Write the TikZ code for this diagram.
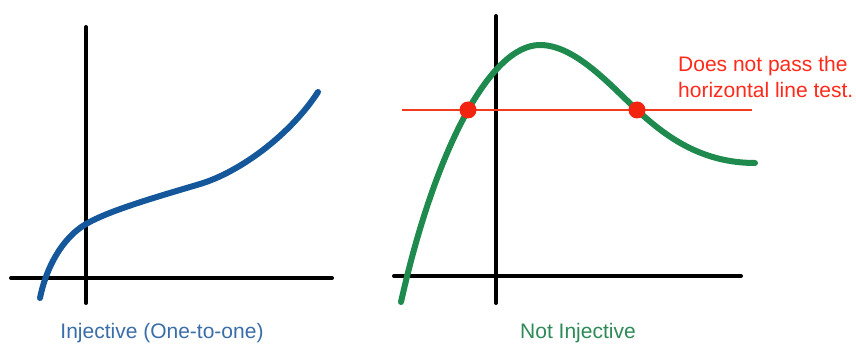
\documentclass[tikz,border=0pt]{standalone}
\usepackage{fontspec}
\setmainfont{Liberation Sans}
\definecolor{curveblue}{HTML}{14579A}
\definecolor{labelblue}{HTML}{3A6EA8}
\definecolor{curvegreen}{HTML}{1E8A4E}
\definecolor{labelgreen}{HTML}{2E8B57}
\definecolor{testred}{HTML}{F23A1E}
\definecolor{dotred}{HTML}{F22410}
\definecolor{textred}{HTML}{FF2A1A}
\begin{document}
\begin{tikzpicture}[x=1pt,y=-1pt,
  axis/.style={line width=4pt,black,line cap=round},
  curve/.style={line width=6pt,line cap=round,line join=round},
  label/.style={font=\fontsize{21}{26}\selectfont,inner sep=0pt},
  dot/.style={circle,fill=dotred,minimum size=17pt,inner sep=0pt}]
\useasboundingbox[fill=white] (0,0) rectangle (856,347);
% left graph
\draw[axis] (86,27) -- (86,303);
\draw[axis] (11,278) -- (332,278);
\draw[curve,curveblue] (40,298) .. controls (46,268) and (62,238) .. (86,224)
  .. controls (110,210) and (160,196) .. (200,184)
  .. controls (240,172) and (290,135) .. (318,92);
\node[label,text=labelblue] (lbl1) at (162,333) {Injective (One-to-one)};
% right graph
\draw[axis] (496,16) -- (496,303);
\draw[axis] (394,276) -- (741,276);
\draw[curve,curvegreen] (401,302) .. controls (435,150) and (490,45) .. (540,45)
  .. controls (575,45) and (610,85) .. (637,110)
  .. controls (664,135) and (700,163) .. (755,163);
\coordinate (hl) at (402,110);
\coordinate (hr) at (752,110);
\draw[testred,line width=1.4pt] (hl) -- (hr);
\node[dot] (d1) at (468,110) {};
\node[dot] (d2) at (637,110) {};
\node[label,text=textred,align=left,anchor=north west] (note) at (678,56) {Does not pass the\\horizontal line test.};
\node[label,text=labelgreen] (lbl2) at (578,333) {Not Injective};
\end{tikzpicture}
\end{document}
